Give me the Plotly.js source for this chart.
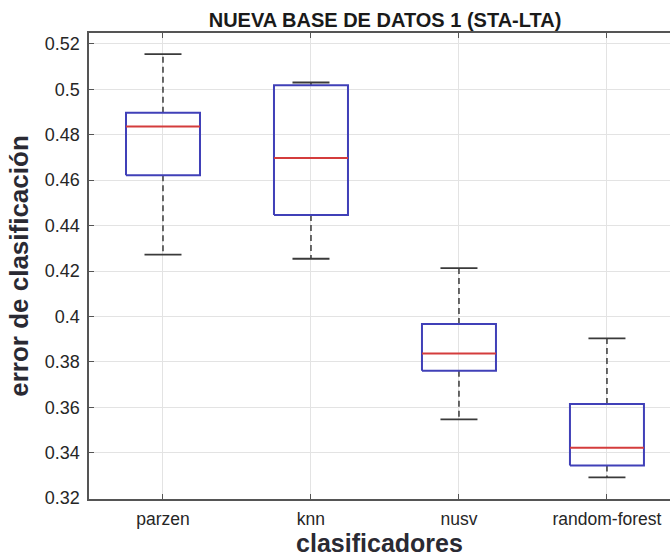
<!DOCTYPE html>
<html>
<head>
<meta charset="utf-8">
<script src="https://cdn.plot.ly/plotly-3.0.1.min.js"></script>
<style>html,body{margin:0;padding:0;background:#fff;}#chart{width:670px;height:559px;}</style>
</head>
<body>
<div id="chart"></div>
<script>
// Data
const categories = ["parzen", "knn", "nusv", "random-forest"];
const lowerWhisker = [0.4272, 0.4254, 0.3547, 0.3291];
const q1 = [0.4622, 0.4447, 0.3761, 0.3344];
const median = [0.4836, 0.4698, 0.3837, 0.3422];
const q3 = [0.4897, 0.5018, 0.3967, 0.3614];
const upperWhisker = [0.5155, 0.5030, 0.4213, 0.3903];
const yTicks = [0.32, 0.34, 0.36, 0.38, 0.40, 0.42, 0.44, 0.46, 0.48, 0.50, 0.52];
const yTickText = ["0.32", "0.34", "0.36", "0.38", "0.4", "0.42", "0.44", "0.46", "0.48", "0.5", "0.52"];

const halfBox = 0.25, halfCap = 0.125;
const pos = categories.map((c, i) => i + 1);

const boxX = [], boxY = [], medX = [], medY = [], whX = [], whY = [], capX = [], capY = [];
pos.forEach((p, i) => {
  boxX.push(p - halfBox, p + halfBox, p + halfBox, p - halfBox, p - halfBox, null);
  boxY.push(q1[i], q1[i], q3[i], q3[i], q1[i], null);
  medX.push(p - halfBox, p + halfBox, null);
  medY.push(median[i], median[i], null);
  whX.push(p, p, null, p, p, null);
  whY.push(q3[i], upperWhisker[i], null, q1[i], lowerWhisker[i], null);
  capX.push(p - halfCap, p + halfCap, null, p - halfCap, p + halfCap, null);
  capY.push(upperWhisker[i], upperWhisker[i], null, lowerWhisker[i], lowerWhisker[i], null);
});

const traces = [
  {x: whX, y: whY, mode: 'lines', line: {color: '#3a3a3a', width: 1.5, dash: '6px,4px'}, hoverinfo: 'skip'},
  {x: capX, y: capY, mode: 'lines', line: {color: '#3a3a3a', width: 1.8}, hoverinfo: 'skip'},
  {x: boxX, y: boxY, mode: 'lines', line: {color: '#4040b8', width: 2}, hoverinfo: 'skip'},
  {x: medX, y: medY, mode: 'lines', line: {color: '#d43c3c', width: 2}, hoverinfo: 'skip'}
];

const fontFam = '"Liberation Sans", Arial, Helvetica, sans-serif';
const layout = {
  width: 670, height: 559,
  margin: {l: 89, r: 0, t: 33, b: 60, pad: 0},
  paper_bgcolor: '#ffffff', plot_bgcolor: '#ffffff',
  showlegend: false,
  font: {family: fontFam, color: '#262626'},
  title: {
    text: '<b>NUEVA BASE DE DATOS 1 (STA-LTA)</b>',
    font: {family: fontFam, size: 20, color: '#1a1a1a'},
    x: 0.5095, xref: 'paper', xanchor: 'center',
    y: 1, yref: 'paper', yanchor: 'bottom', pad: {b: 6}
  },
  xaxis: {
    range: [0.5, 4.426],
    tickvals: pos, ticktext: categories,
    tickfont: {size: 17.5, color: '#262626'},
    showgrid: true, gridcolor: '#e3e3e3', gridwidth: 1,
    zeroline: false,
    showline: true, linecolor: '#555555', linewidth: 1.6, mirror: 'ticks',
    ticks: 'inside', ticklen: 5, tickcolor: '#555555', tickwidth: 1,
    ticklabelstandoff: 3,
    title: {text: '<b>clasificadores</b>', font: {family: fontFam, size: 25, color: '#2a2a33'}, standoff: 4}
  },
  yaxis: {
    range: [0.3196, 0.5248],
    tickvals: yTicks, ticktext: yTickText,
    tickfont: {size: 18, color: '#262626'},
    showgrid: true, gridcolor: '#e3e3e3', gridwidth: 1,
    zeroline: false,
    showline: true, linecolor: '#555555', linewidth: 1.6,
    ticks: 'inside', ticklen: 5, tickcolor: '#555555', tickwidth: 1,
    ticklabelstandoff: 4,
    title: {text: '<b>error de clasificación</b>', font: {family: fontFam, size: 26, color: '#2a2a33'}, standoff: 8}
  }
};

Plotly.newPlot('chart', traces, layout, {staticPlot: true, displayModeBar: false});
</script>
</body>
</html>
